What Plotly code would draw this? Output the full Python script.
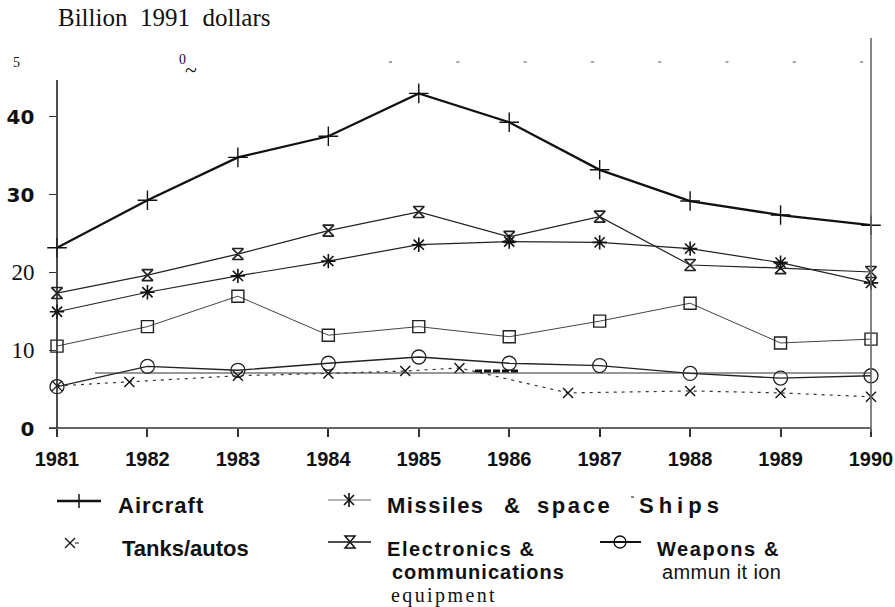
import plotly.graph_objects as go

# ---------------- data ----------------
years = [1981, 1982, 1983, 1984, 1985, 1986, 1987, 1988, 1989, 1990]
aircraft = [23.1, 29.2, 34.7, 37.4, 42.9, 39.2, 33.1, 29.1, 27.3, 26.0]
electronics = [17.3, 19.6, 22.3, 25.3, 27.7, 24.5, 27.1, 20.9, 20.5, 20.0]
missiles = [14.9, 17.4, 19.5, 21.4, 23.5, 23.9, 23.8, 23.0, 21.2, 18.6]
ships = [10.5, 13.0, 16.9, 11.9, 13.0, 11.7, 13.7, 16.0, 10.9, 11.4]
weapons = [5.3, 7.9, 7.4, 8.3, 9.1, 8.3, 8.0, 7.0, 6.4, 6.7]
tanks_years = [1981, 1981.8, 1983, 1984, 1984.85, 1985.45, 1986.65, 1988, 1989, 1990]
tanks = [5.4, 5.9, 6.7, 7.0, 7.3, 7.7, 4.5, 4.75, 4.5, 4.0]

y_tickvals = [0, 10, 20, 30, 40]
y_ticklabels = ["0", "10", "20", "30", "40"]
y_tickbold = [True, False, False, True, True]
x_ticklabels = [str(y) for y in years]

W, H = 895, 607
L, R, T, B = 57, 24, 38, 179
PW, PH = W - L - R, H - T - B
YMAX = 50


def xp(px):
    return (px - L) / PW


def yp(py):
    return (H - B - py) / PH


fig = go.Figure()

common = dict(mode="lines+markers", showlegend=False, hoverinfo="skip", cliponaxis=False)
fig.add_trace(go.Scatter(x=years, y=aircraft, line=dict(color="#111", width=2.3),
                         marker=dict(symbol="cross-thin", size=14, line=dict(color="#111", width=1.4)), **common))
fig.add_trace(go.Scatter(x=years, y=electronics, line=dict(color="#222", width=1.2),
                         marker=dict(symbol="hourglass-open", size=11, color="#222", line=dict(width=1.6)), **common))
fig.add_trace(go.Scatter(x=years, y=missiles, line=dict(color="#222", width=1.2),
                         marker=dict(symbol="asterisk-open", size=12, color="#111", line=dict(width=1.6)), **common))
fig.add_trace(go.Scatter(x=years, y=ships, line=dict(color="#444", width=1.0),
                         marker=dict(symbol="square-open", size=12, color="#222", line=dict(width=1.4)), **common))
fig.add_trace(go.Scatter(x=years, y=weapons, line=dict(color="#222", width=1.4),
                         marker=dict(symbol="circle-open", size=14, color="#222", line=dict(width=1.3)), **common))
fig.add_trace(go.Scatter(x=tanks_years, y=tanks, line=dict(color="#333", width=1.2, dash="3px,5px"),
                         marker=dict(symbol="x-thin-open", size=10, color="#111", line=dict(width=1.4)), **common))

shapes = []


def seg(x0, y0, x1, y1, color="#111", width=1.4, dash=None):
    ln = dict(color=color, width=width)
    if dash:
        ln["dash"] = dash
    shapes.append(dict(type="line", xref="paper", yref="paper", x0=xp(x0), x1=xp(x1), y0=yp(y0), y1=yp(y1),
                       line=ln))


# axes lines
seg(49, 428, 871, 428, "#333", 1.6)
seg(57, 428, 57, 80, "#222", 1.6)
seg(871, 432, 871, 38, "#666", 1.6)
# top dotted gridline remnant
seg(389, 62, 864, 62, "#888", 1.5, "3px,64.3px")
# stray horizontal line near 7 and heavy dashes
seg(95, 373, 871, 373, "#333", 1.2)
seg(475, 371, 520, 371, "#111", 3, "7px,2px")

# legend line samples
seg(57, 501, 101, 501, "#111", 2.4)
seg(328, 500, 371, 500, "#666", 1.0)
seg(328, 542, 371, 542, "#111", 1.6)
seg(631, 497, 634, 497, "#333", 1.2)

# legend glyphs
seg(79, 494, 79, 508, "#111", 1.5)                       # aircraft cross
seg(349, 493, 349, 507, "#111", 1.6)                     # missiles asterisk
seg(344, 495, 354, 505, "#111", 1.6)
seg(344, 505, 354, 495, "#111", 1.6)
seg(65, 538, 75, 548, "#111", 1.3)                       # tanks x
seg(65, 548, 75, 538, "#111", 1.3)
seg(75, 543, 79, 543, "#111", 1.0)
hg = [(345, 536), (355, 536), (345, 548), (355, 548)]    # electronics hourglass
path = "M{},{} L{},{} L{},{} L{},{} Z".format(*[v for p in hg for v in (xp(p[0]), yp(p[1]))])
shapes.append(dict(type="path", xref="paper", yref="paper", path=path, line=dict(color="#111", width=1.5)))
shapes.append(dict(type="circle", xref="paper", yref="paper", x0=xp(614), x1=xp(626), y0=yp(536), y1=yp(548),
                   line=dict(color="#111", width=1.3), fillcolor="white"))
seg(600, 542, 641, 542, "#111", 1.8)

SANS = "Liberation Sans, Arial, sans-serif"
SERIF = "Liberation Serif, Times New Roman, serif"

annotations = []


def add_text(text, px, py, size, family=SANS, bold=True, spacing=0, anchor="left"):
    t = text
    if spacing:
        t = f"<span style='letter-spacing:{spacing}px'>{t}</span>"
    if bold:
        t = f"<b>{t}</b>"
    annotations.append(dict(text=t, x=xp(px), y=yp(py), xref="paper", yref="paper", xanchor=anchor,
                            yanchor="middle", showarrow=False, borderpad=0,
                            font=dict(family=family, size=size, color="#111")))


add_text("Billion  1991  dollars", 57, 18, 25, family=SERIF, bold=False)
add_text("5", 12, 62, 14, family=SERIF, bold=False)
add_text("0", 178, 59, 14, family=SERIF, bold=False)
add_text("~", 184, 69, 22, family=SERIF, bold=False)

add_text("Aircraft", 117, 505, 22, spacing=1)
add_text("Missiles", 386, 505, 22, spacing=1.5)
add_text("&", 503, 505, 22)
add_text("space", 536, 505, 22, spacing=2.6)
add_text("Ships", 638, 505, 22, spacing=5)
add_text("Tanks/autos", 121, 548, 22)
add_text("Electronics &", 386, 549, 20, spacing=1.6)
add_text("communications", 391, 572, 20, spacing=1.0)
add_text("equipment", 390, 595, 20, family=SERIF, bold=False, spacing=2.4)
add_text("Weapons &", 656, 549, 20, spacing=1.6)
add_text("ammun it ion", 661, 572, 20, bold=False, spacing=0.4)

y_ticktext = []
for lab, b in zip(y_ticklabels, y_tickbold):
    if b:
        y_ticktext.append(f"<span style=\"font-family:'DejaVu Sans';font-size:20px;font-weight:bold\">{lab}</span>")
    else:
        y_ticktext.append(lab)

fig.update_layout(
    width=W, height=H, autosize=False,
    margin=dict(l=L, r=R, t=T, b=B, pad=0),
    plot_bgcolor="white", paper_bgcolor="white",
    shapes=shapes, annotations=annotations,
    xaxis=dict(range=[years[0], years[-1]], tickvals=years, ticktext=[f"<b>{t}</b>" for t in x_ticklabels],
               showgrid=False, zeroline=False, showline=False, ticks="outside", ticklen=8, tickwidth=1.5,
               tickcolor="#333", tickfont=dict(family=SANS, size=20, color="#111"), ticklabelstandoff=5,
               automargin=False),
    yaxis=dict(range=[0, YMAX], tickvals=y_tickvals, ticktext=y_ticktext, showgrid=False, zeroline=False,
               showline=False, ticks="outside", ticklen=7, tickwidth=1.2, tickcolor="#333",
               tickfont=dict(family=SERIF, size=23, color="#111"), ticklabelstandoff=10, automargin=False),
)

fig.write_html("out.html", config={"displayModeBar": False},
               post_script="document.body.style.margin='0';document.body.style.overflow='hidden';")
